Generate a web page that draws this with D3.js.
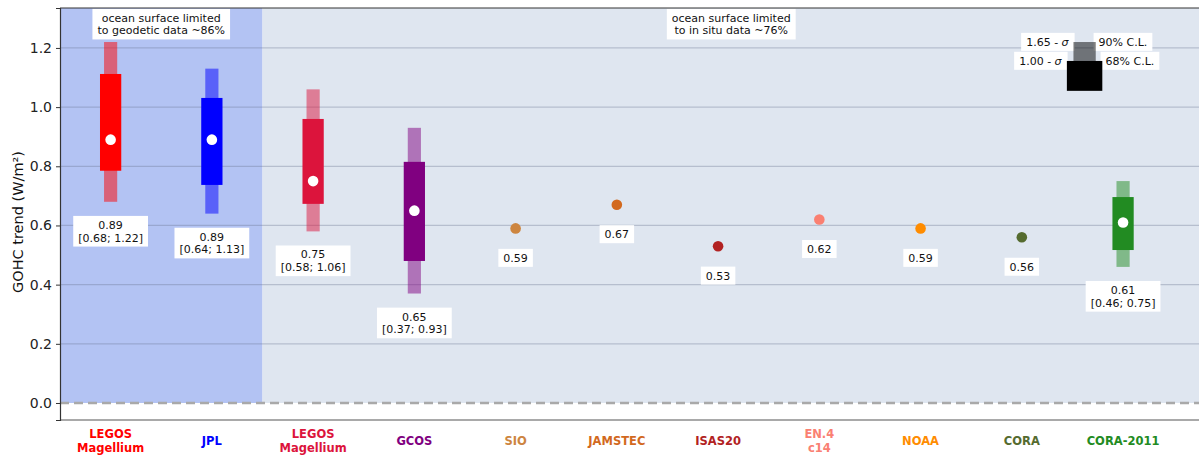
<!DOCTYPE html>
<html>
<head>
<meta charset="utf-8">
<script src="https://cdn.jsdelivr.net/npm/d3@7"></script>
<style>
  body { margin: 0; background: #fff; }
  text { font-family: "DejaVu Sans", sans-serif; }
</style>
</head>
<body>
<svg id="chart"></svg>
<script>
// products, as shown on the x axis
const products = ["LEGOS\nMagellium", "JPL", "LEGOS\nMagellium", "GCOS", "SIO", "JAMSTEC", "ISAS20", "EN.4\nc14", "NOAA", "CORA", "CORA-2011"];
const colors = ["#ff0000", "#0000ff", "#dc143c", "#800080", "#cd853f", "#d2691e", "#b22222", "#fa8072", "#ff8c00", "#556b2f", "#228b22"];
const trends = [0.89, 0.89, 0.75, 0.65, 0.59, 0.67, 0.53, 0.62, 0.59, 0.56, 0.61];
// 90% interval (1.65 sigma), null when no uncertainty given
const low90 = [0.68, 0.64, 0.58, 0.37, null, null, null, null, null, null, 0.46];
const high90 = [1.22, 1.13, 1.06, 0.93, null, null, null, null, null, null, 0.75];
// 68% interval (1 sigma)
const low68 = [0.785, 0.737, 0.673, 0.48, null, null, null, null, null, null, 0.517];
const high68 = [1.112, 1.031, 0.96, 0.815, null, null, null, null, null, null, 0.696];

const yTicks = [0.0, 0.2, 0.4, 0.6, 0.8, 1.0, 1.2];
const regions = [
    { from: -0.5, to: 1.5, fill: "#b3c3f3", note: ["ocean surface limited", "to geodetic data ~86%"], noteX: 0.5 },
    { from: 1.5, to: 10.75, fill: "#dfe6f0", note: ["ocean surface limited", "to in situ data ~76%"], noteX: 6.13 }
];
const legendBox = { x: 9.62, lo90: 1.1, hi90: 1.22, lo68: 1.055, hi68: 1.156 };

const width = 1199;
const height = 455;
const margin = { top: 8, right: 0, bottom: 35, left: 60 };
const fs = 11;

const svg = d3.select("#chart")
    .attr("width", width)
    .attr("height", height);

const x = d3.scaleLinear()
    .domain([-0.5, 10.75])
    .range([margin.left, width - margin.right]);

const y = d3.scaleLinear()
    .domain([-0.0575, 1.335])
    .range([height - margin.bottom, margin.top]);

const ymax = y.domain()[1];

// shaded backgrounds, from 0 to the top
svg.selectAll("rect.region")
    .data(regions)
    .enter().append("rect")
    .attr("class", "region")
    .attr("x", d => x(d.from))
    .attr("width", d => x(d.to) - x(d.from))
    .attr("y", y(ymax))
    .attr("height", y(0) - y(ymax))
    .attr("fill", d => d.fill);

// grid
svg.append("g")
    .selectAll("line")
    .data(yTicks.filter(t => t > 0))
    .enter().append("line")
    .attr("x1", margin.left)
    .attr("x2", width - margin.right)
    .attr("y1", d => y(d))
    .attr("y2", d => y(d))
    .attr("stroke", "#6a7290")
    .attr("stroke-opacity", 0.35)
    .attr("stroke-width", 1.2);

// zero line
svg.append("line")
    .attr("x1", margin.left)
    .attr("x2", width - margin.right)
    .attr("y1", y(0))
    .attr("y2", y(0))
    .attr("stroke", "#a9a9a9")
    .attr("stroke-width", 2.5)
    .attr("stroke-dasharray", "9,5");

const idx = d3.range(products.length);
const withBar = idx.filter(i => low90[i] !== null);
const bw90 = x(0.065) - x(0);
const bw68 = x(0.105) - x(0);

// 90% bars
svg.selectAll("rect.ci90")
    .data(withBar)
    .enter().append("rect")
    .attr("class", "ci90")
    .attr("x", i => x(i) - bw90)
    .attr("width", 2 * bw90)
    .attr("y", i => y(high90[i]))
    .attr("height", i => y(low90[i]) - y(high90[i]))
    .attr("fill", i => colors[i])
    .attr("fill-opacity", 0.5);

// 68% bars
svg.selectAll("rect.ci68")
    .data(withBar)
    .enter().append("rect")
    .attr("class", "ci68")
    .attr("x", i => x(i) - bw68)
    .attr("width", 2 * bw68)
    .attr("y", i => y(high68[i]))
    .attr("height", i => y(low68[i]) - y(high68[i]))
    .attr("fill", i => colors[i]);

// central values
svg.selectAll("circle.trend")
    .data(idx)
    .enter().append("circle")
    .attr("class", "trend")
    .attr("cx", i => x(i))
    .attr("cy", i => y(trends[i]))
    .attr("r", 5.3)
    .attr("fill", i => low90[i] !== null ? "#fff" : colors[i]);

// text with white box behind
function boxedText(g, lines, cx, cy, anchor, size) {
    const lh = size * 1.15;
    const t = g.append("text")
        .attr("font-size", size)
        .attr("fill", "#111")
        .attr("text-anchor", anchor);
    lines.forEach((l, k) => {
        const ts = t.append("tspan")
            .attr("x", cx)
            .attr("y", cy + (k - (lines.length - 1) / 2) * lh)
            .attr("dy", "0.35em");
        if (Array.isArray(l)) {
            l.forEach(p => ts.append("tspan").attr("font-style", p.i ? "italic" : null).text(p.s));
        } else {
            ts.text(l);
        }
    });
    const bb = t.node().getBBox();
    g.insert("rect", () => t.node())
        .attr("x", bb.x - 5)
        .attr("y", bb.y - 3)
        .attr("width", bb.width + 10)
        .attr("height", bb.height + 5)
        .attr("fill", "#fff");
}

const labels = svg.append("g");
idx.forEach(i => {
    const lines = low90[i] !== null
        ? [trends[i].toFixed(2), `[${low90[i].toFixed(2)}; ${high90[i].toFixed(2)}]`]
        : [trends[i].toFixed(2)];
    const lower = low90[i] !== null ? low90[i] : trends[i];
    boxedText(labels.append("g"), lines, x(i), y(lower - 0.1), "middle", fs);
});

// region notes
regions.forEach(r => {
    boxedText(svg.append("g"), r.note, x(r.noteX), y(1.28), "middle", fs);
});

// legend: labels first, boxes on top
const lg = svg.append("g");
boxedText(lg.append("g"), [[{ s: "1.65 - " }, { s: "σ", i: true }]], x(legendBox.x) - 16, y(legendBox.hi90), "end", fs);
boxedText(lg.append("g"), ["90% C.L."], x(legendBox.x) + 14, y(legendBox.hi90), "start", fs);
boxedText(lg.append("g"), [[{ s: "1.00 - " }, { s: "σ", i: true }]], x(legendBox.x) - 23, y(legendBox.hi68), "end", fs);
boxedText(lg.append("g"), ["68% C.L."], x(legendBox.x) + 21, y(legendBox.hi68), "start", fs);
lg.append("rect")
    .attr("x", x(legendBox.x) - (x(0.11) - x(0)))
    .attr("width", 2 * (x(0.11) - x(0)))
    .attr("y", y(legendBox.hi90))
    .attr("height", y(legendBox.lo90) - y(legendBox.hi90))
    .attr("fill", "#000")
    .attr("fill-opacity", 0.5);
lg.append("rect")
    .attr("x", x(legendBox.x) - (x(0.175) - x(0)))
    .attr("width", 2 * (x(0.175) - x(0)))
    .attr("y", y(legendBox.hi68))
    .attr("height", y(legendBox.lo68) - y(legendBox.hi68))
    .attr("fill", "#000");

// spines
svg.append("line")
    .attr("x1", margin.left).attr("x2", width)
    .attr("y1", margin.top).attr("y2", margin.top)
    .attr("stroke", "#333").attr("stroke-width", 1);
svg.append("line")
    .attr("x1", margin.left).attr("x2", width)
    .attr("y1", height - margin.bottom).attr("y2", height - margin.bottom)
    .attr("stroke", "#555").attr("stroke-width", 1.2);

// y axis
const yAxis = svg.append("g")
    .attr("transform", `translate(${margin.left},0)`)
    .call(d3.axisLeft(y).tickValues(yTicks).tickFormat(d3.format(".1f")).tickSize(4).tickPadding(4));
yAxis.select(".domain").attr("stroke", "#333").attr("stroke-width", 1.2);
yAxis.selectAll(".tick line").attr("stroke", "#333");
yAxis.selectAll(".tick text")
    .attr("font-size", 14)
    .attr("font-family", "DejaVu Sans, sans-serif")
    .attr("fill", "#222");

svg.append("text")
    .attr("transform", `translate(23, 222) rotate(-90)`)
    .attr("text-anchor", "middle")
    .attr("font-size", 14.5)
    .attr("fill", "#111")
    .text("GOHC trend (W/m²)");

// x labels
const xl = svg.append("g");
idx.forEach(i => {
    const parts = products[i].split("\n");
    const t = xl.append("text")
        .attr("text-anchor", "middle")
        .attr("font-size", 11.5)
        .attr("font-weight", "bold")
        .attr("fill", colors[i]);
    parts.forEach((p, k) => {
        t.append("tspan")
            .attr("x", x(i))
            .attr("y", 441 + (k - (parts.length - 1) / 2) * 14)
            .attr("dy", "0.35em")
            .text(p);
    });
});
</script>
</body>
</html>
